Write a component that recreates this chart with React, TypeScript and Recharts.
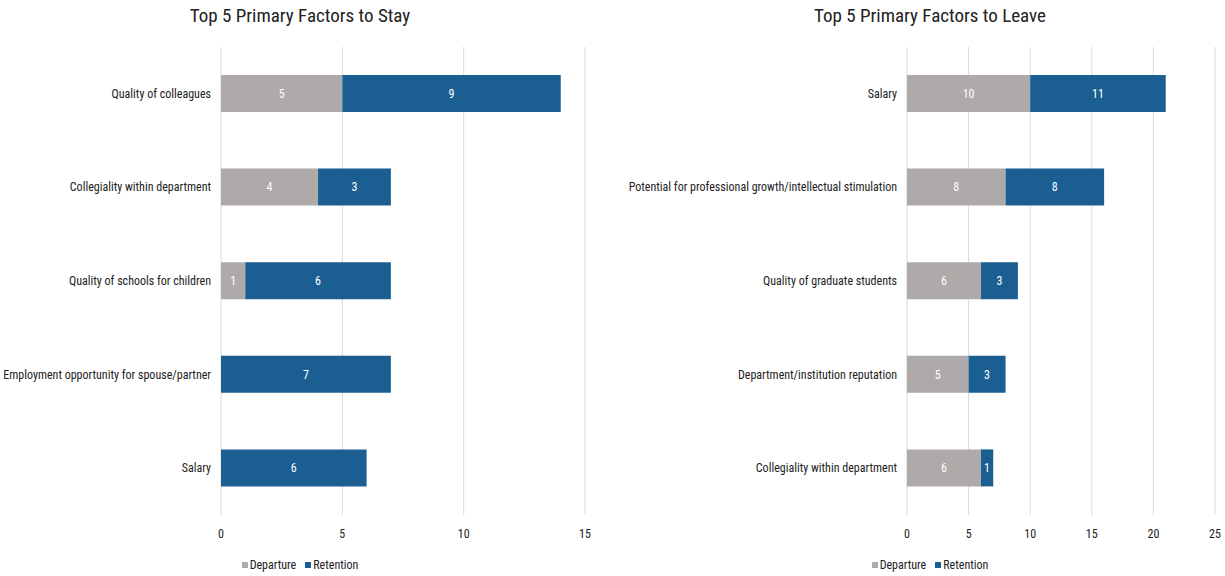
import { Bar, BarChart, CartesianGrid, LabelList, XAxis, YAxis } from "recharts";

const STAY_FACTORS = [
  "Quality of colleagues",
  "Collegiality within department",
  "Quality of schools for children",
  "Employment opportunity for spouse/partner",
  "Salary",
];
const STAY_DEPARTURE = [5, 4, 1, 0, 0];
const STAY_RETENTION = [9, 3, 6, 7, 6];
const STAY_TICKS = [0, 5, 10, 15];

const LEAVE_FACTORS = [
  "Salary",
  "Potential for professional growth/intellectual stimulation",
  "Quality of graduate students",
  "Department/institution reputation",
  "Collegiality within department",
];
const LEAVE_DEPARTURE = [10, 8, 6, 5, 6];
const LEAVE_RETENTION = [11, 8, 3, 3, 1];
const LEAVE_TICKS = [0, 5, 10, 15, 20, 25];

const GRAY = "#aeaaa9";
const BLUE = "#1a5e92";
const FONT = "'Liberation Sans Narrow', 'Arial Narrow', 'Roboto Condensed', sans-serif";

interface PanelProps {
  title: string;
  factors: string[];
  departure: number[];
  retention: number[];
  ticks: number[];
  width: number;
  yWidth: number;
  rightMargin: number;
  left: number;
  center: number;
}

// single-line category tick (recharts would wrap the long ones)
function FactorTick({ x, y, payload }: any) {
  return (
    <text x={x} y={y} textAnchor="end" dominantBaseline="central" fill="#222" fontSize={12} fontFamily={FONT}>
      {payload.value}
    </text>
  );
}

function Panel({ title, factors, departure, retention, ticks, width, yWidth, rightMargin, left, center }: PanelProps) {
  const data = factors.map((f, i) => ({ factor: f, departure: departure[i], retention: retention[i] }));
  return (
    <div style={{ position: "absolute", left, top: 0, width, height: 576 }}>
      <div
        style={{
          position: "absolute",
          left: center - 200,
          width: 400,
          top: 4,
          textAlign: "center",
          fontSize: 19,
          color: "#222",
        }}
      >
        {title}
      </div>
      <BarChart
        width={width}
        height={576}
        data={data}
        layout="vertical"
        margin={{ top: 47, right: rightMargin, bottom: 31, left: 0 }}
        style={{ fontFamily: FONT }}
      >
        <CartesianGrid horizontal={false} stroke="#d9d9d9" />
        <XAxis
          type="number"
          domain={[ticks[0], ticks[ticks.length - 1]]}
          ticks={ticks}
          tickLine={false}
          axisLine={false}
          tickMargin={8}
          tick={{ fill: "#222", fontSize: 12 }}
        />
        <YAxis
          type="category"
          dataKey="factor"
          width={yWidth}
          tickLine={false}
          axisLine={false}
          tickMargin={4}
          interval={0}
          tick={<FactorTick />}
        />
        <Bar dataKey="departure" stackId="a" fill={GRAY} barSize={37} isAnimationActive={false}>
          <LabelList
            dataKey="departure"
            position="center"
            fill="#fff"
            fontSize={12}
            formatter={(v: any) => (v ? v : "")}
          />
        </Bar>
        <Bar dataKey="retention" stackId="a" fill={BLUE} barSize={37} isAnimationActive={false}>
          <LabelList
            dataKey="retention"
            position="center"
            fill="#fff"
            fontSize={12}
            formatter={(v: any) => (v ? v : "")}
          />
        </Bar>
      </BarChart>
      <div
        style={{
          position: "absolute",
          left: center - 150,
          width: 300,
          top: 558,
          display: "flex",
          justifyContent: "center",
          gap: 9,
          fontSize: 12,
          color: "#222",
        }}
      >
        <LegendItem color={GRAY} label="Departure" />
        <LegendItem color={BLUE} label="Retention" />
      </div>
    </div>
  );
}

function LegendItem({ color, label }: { color: string; label: string }) {
  return (
    <div style={{ display: "flex", alignItems: "center", gap: 2 }}>
      <span style={{ width: 6, height: 6, background: color, display: "inline-block" }} />
      <span>{label}</span>
    </div>
  );
}

export default function App() {
  return (
    <div
      style={{
        position: "absolute",
        left: 0,
        top: 0,
        width: 1225,
        height: 576,
        background: "#fff",
        fontFamily: FONT,
      }}
    >
      <Panel
        title="Top 5 Primary Factors to Stay"
        factors={STAY_FACTORS}
        departure={STAY_DEPARTURE}
        retention={STAY_RETENTION}
        ticks={STAY_TICKS}
        width={610}
        yWidth={221}
        rightMargin={25}
        left={0}
        center={300}
      />
      <Panel
        title="Top 5 Primary Factors to Leave"
        factors={LEAVE_FACTORS}
        departure={LEAVE_DEPARTURE}
        retention={LEAVE_RETENTION}
        ticks={LEAVE_TICKS}
        width={625}
        yWidth={307}
        rightMargin={10}
        left={600}
        center={330}
      />
    </div>
  );
}
